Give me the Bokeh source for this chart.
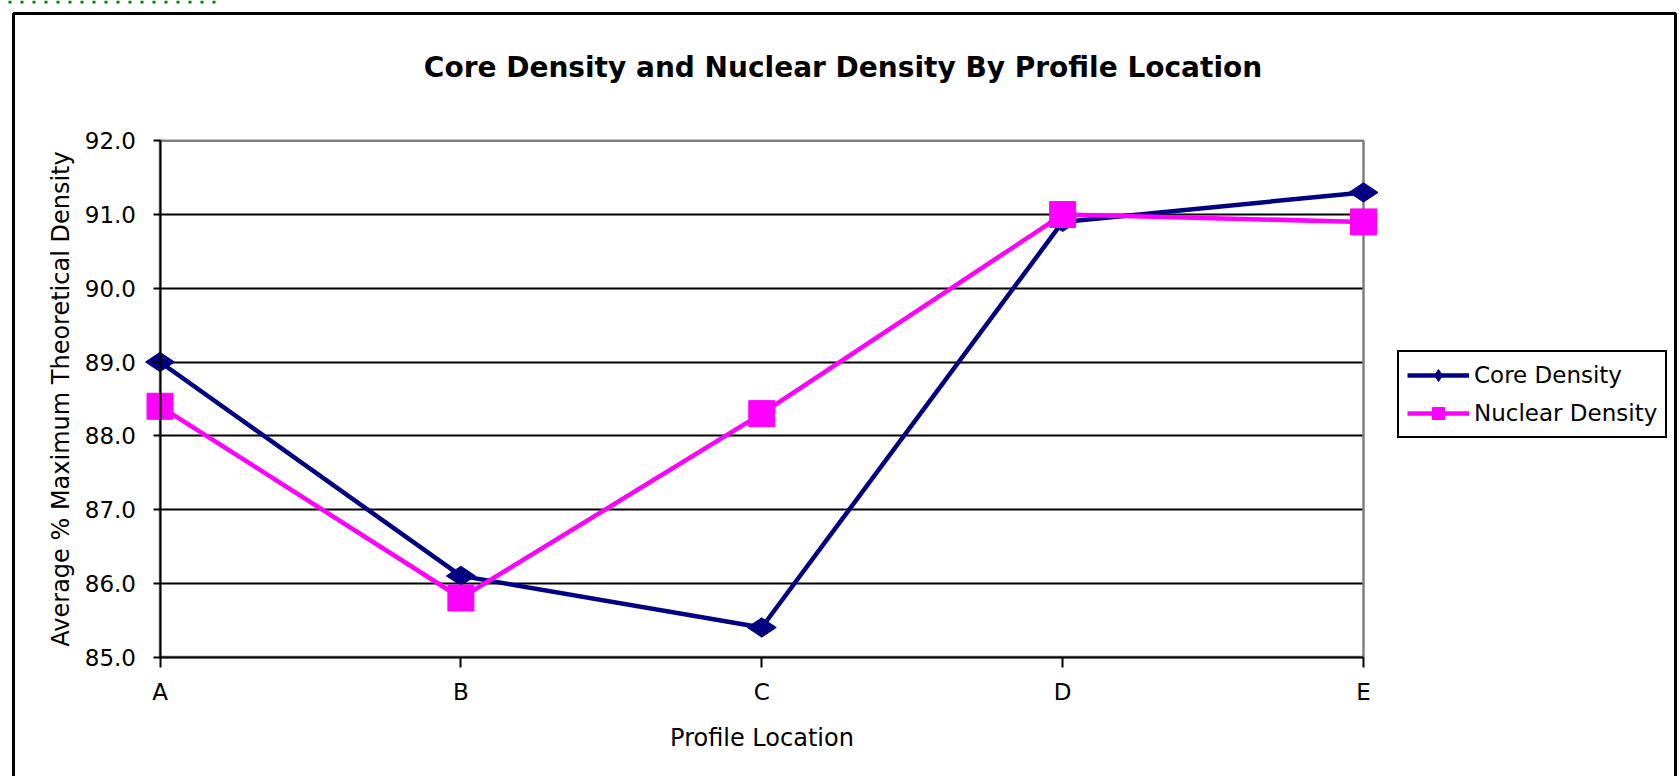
import math
from bokeh.plotting import figure
from bokeh.models import (FixedTicker, Range1d, Legend, LegendItem, Label,
                          BoxAnnotation, NumeralTickFormatter, Arrow)
from bokeh.embed import file_html
from bokeh.resources import INLINE

# ---- data ----
categories = ["A", "B", "C", "D", "E"]
core_density = [89.0, 86.1, 85.4, 90.9, 91.3]
nuclear_density = [88.4, 85.8, 88.3, 91.0, 90.9]
y_ticks = [85.0, 86.0, 87.0, 88.0, 89.0, 90.0, 91.0, 92.0]
title_text = "Core Density and Nuclear Density By Profile Location"
x_label = "Profile Location"
y_label = "Average % Maximum Theoretical Density"
series_names = ["Core Density", "Nuclear Density"]

# ---- layout (pixels) ----
W, H = 1679, 776
PA_LEFT, PA_RIGHT, PA_TOP, PA_BOTTOM = 159.5, 1363.0, 140.3, 656.5
FONT = "DejaVu Sans"

xs = list(range(len(categories)))
x0, x1 = xs[0], xs[-1]
y0, y1 = y_ticks[0], y_ticks[-1]
xscale = (PA_RIGHT - PA_LEFT) / (x1 - x0)
yscale = (PA_BOTTOM - PA_TOP) / (y1 - y0)
x_range = Range1d(x0 - PA_LEFT / xscale, x1 + (W - PA_RIGHT) / xscale)
y_range = Range1d(y0 - (H - PA_BOTTOM) / yscale, y1 + PA_TOP / yscale)

p = figure(width=W, height=H, x_range=x_range, y_range=y_range,
           output_backend="svg", toolbar_location=None, min_border=0,
           min_border_left=0, min_border_right=0, min_border_top=0, min_border_bottom=0)
p.background_fill_color = "white"
p.border_fill_color = "white"
p.outline_line_color = None

# axes placed at the plot-area edges
p.xaxis.fixed_location = y0
p.yaxis.fixed_location = x0
p.xaxis.bounds = (x0, x1)
p.yaxis.bounds = (y0, y1)
p.xaxis.ticker = FixedTicker(ticks=xs)
p.xaxis.major_label_overrides = {i: c for i, c in zip(xs, categories)}
p.yaxis.ticker = FixedTicker(ticks=y_ticks)
p.yaxis.formatter = NumeralTickFormatter(format="0.0")
for ax in (p.xaxis[0], p.yaxis[0]):
    ax.axis_line_color = "black"
    ax.axis_line_width = 2
    ax.major_tick_line_color = "black"
    ax.major_tick_line_width = 2
    ax.minor_tick_line_color = None
    ax.major_tick_in = 0
    ax.major_label_text_font = FONT
    ax.major_label_text_font_size = "23px"
    ax.major_label_text_color = "black"
    ax.axis_label_text_font = FONT
    ax.axis_label_text_font_size = "24px"
    ax.axis_label_text_font_style = "normal"
    ax.axis_label_text_color = "black"
p.yaxis.major_tick_out = 7
p.xaxis.major_tick_out = 10
p.yaxis.major_label_standoff = 17
p.xaxis.major_label_standoff = 12
p.xaxis.axis_label = x_label
p.yaxis.axis_label = y_label
p.xaxis.axis_label_standoff = 15
p.yaxis.axis_label_standoff = 7

# grid
p.xgrid.visible = False
p.ygrid.ticker = FixedTicker(ticks=y_ticks[1:-1])
p.ygrid.grid_line_color = "black"
p.ygrid.grid_line_width = 2
p.ygrid.cross_bounds = (x0, x1)

# gray border on top / right of the plot area
p.add_layout(BoxAnnotation(left=x0, right=x1, bottom=y0, top=y1,
                           fill_alpha=0, line_alpha=1.0,
                           line_color="#808080", line_width=2.5, level="underlay"))

# series
core_line = p.line(xs, core_density, line_color="#000080", line_width=4.5)
core_pts = p.scatter(xs, core_density, marker="diamond", size=29, angle=math.pi / 2,
                     fill_color="#000080", line_color="#000080")
nuc_line = p.line(xs, nuclear_density, line_color="#FF00FF", line_width=4.5)
nuc_pts = p.scatter(xs, nuclear_density, marker="square", size=26,
                    fill_color="#FF00FF", line_color="#FF00FF")

# legend
legend = Legend(items=[LegendItem(label=series_names[0], renderers=[core_line, core_pts]),
                       LegendItem(label=series_names[1], renderers=[nuc_line, nuc_pts])],
                location=(1397, H - 438),
                padding=8, spacing=8, margin=0,
                glyph_width=62, glyph_height=30, label_height=30, label_standoff=5,
                label_text_font=FONT, label_text_font_size="23px", label_text_color="black",
                border_line_color="black", border_line_width=2.5, border_line_alpha=1.0,
                background_fill_color="white", background_fill_alpha=1.0)
p.add_layout(legend, "center")

# title
p.add_layout(Label(x=842.5, y=H - 67.3, x_units="screen", y_units="screen",
                   text=title_text, text_align="center", text_baseline="alphabetic",
                   text_font=FONT, text_font_style="bold", text_font_size="28px",
                   text_color="black"))

# outer chart frame
p.add_layout(BoxAnnotation(left=13, right=1675, top=H - 13, bottom=-50,
                           left_units="screen", right_units="screen",
                           top_units="screen", bottom_units="screen",
                           fill_alpha=0, line_alpha=1.0,
                           line_color="black", line_width=3))

# green dotted line at top-left
p.add_layout(Arrow(end=None, x_start=8, y_start=H - 1.5, x_end=222, y_end=H - 1.5,
                   start_units="screen", end_units="screen",
                   line_color="#008000", line_alpha=1.0, line_width=3, line_dash="3 9"))

open("out.html", "w").write(file_html(p, INLINE))
